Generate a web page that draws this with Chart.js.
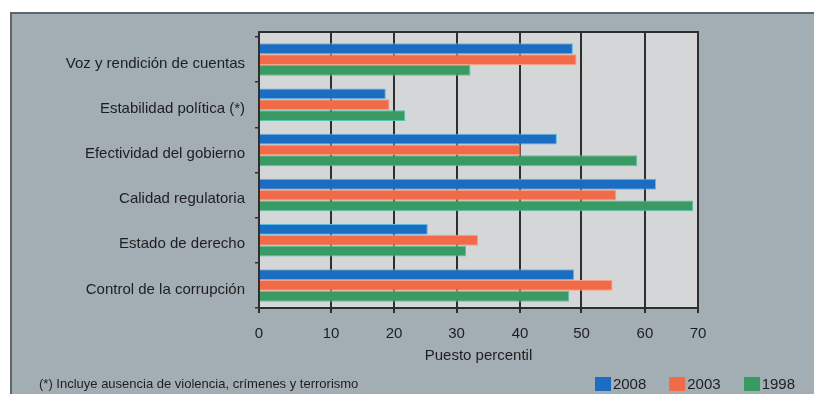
<!DOCTYPE html>
<html>
<head>
<meta charset="utf-8">
<script src="https://cdn.jsdelivr.net/npm/chart.js@4.4.1/dist/chart.umd.min.js"></script>
<style>
	body { margin: 0; background: #fff; font-family: "Liberation Sans", Arial, sans-serif; }
	#wrap { position: relative; width: 814px; height: 394px; overflow: hidden; }
	#panel {
		position: absolute; left: 10px; top: 12px; right: 0; bottom: 0;
		background: #a2adb4;
		border-top: 2px solid #5e656a; border-left: 2px solid #5e656a;
	}
	#myChart { position: absolute; left: 0; top: 0; }
	#footnote {
		position: absolute; left: 39px; top: 376px;
		font-size: 13px; line-height: 16px; color: #1e1e1e;
	}
	#legend {
		position: absolute; right: 19px; top: 376px;
		font-size: 15px; line-height: 16px; color: #1e1e1e; white-space: nowrap;
	}
	#legend span { margin-left: 23px; }
	#legend span:first-child { margin-left: 0; }
	#legend i { display: inline-block; width: 16px; height: 14px; margin-right: 2px; vertical-align: -2px; }
</style>
</head>
<body>
<div id="wrap">
	<div id="panel"></div>
	<canvas id="myChart" width="814" height="394"></canvas>
	<div id="footnote">(*) Incluye ausencia de violencia, crímenes y terrorismo</div>
	<div id="legend"></div>
</div>
<script>
const categories = [
	'Voz y rendición de cuentas',
	'Estabilidad política (*)',
	'Efectividad del gobierno',
	'Calidad regulatoria',
	'Estado de derecho',
	'Control de la corrupción'
];
const years = ['2008', '2003', '1998'];
const values2008 = [48.6, 18.7, 46.0, 62.1, 25.4, 48.8];
const values2003 = [49.2, 19.3, 40.1, 55.5, 33.4, 54.9];
const values1998 = [32.2, 21.8, 58.8, 69.1, 31.5, 48.0];
const xTicks = [0, 10, 20, 30, 40, 50, 60, 70];

const fillColors = ['#1b6dc1', '#f26b48', '#3a9a63'];
const edgeColors = ['#5cb8ea', '#f9a184', '#55c2ad'];

// printed axis steps are uneven: fraction of the plot width where each tick sits
const xStops = [0, 0.164, 0.3075, 0.45, 0.5945, 0.7346, 0.879, 1];

class StretchedScale extends Chart.LinearScale {
	static id = 'stretched';
	getPixelForValue(value) {
		if (value === null || isNaN(value)) return NaN;
		let step = xTicks[1] - xTicks[0];
		let i = Math.max(0, Math.min(Math.floor(value / step), xStops.length - 2));
		let f = (value - xTicks[i]) / step;
		return this.getPixelForDecimal(xStops[i] + f * (xStops[i + 1] - xStops[i]));
	}
	getValueForPixel(pixel) {
		let d = this.getDecimalForPixel(pixel);
		let i = 0;
		while (i < xStops.length - 2 && d > xStops[i + 1]) i++;
		let step = xTicks[1] - xTicks[0];
		return xTicks[i] + step * (d - xStops[i]) / (xStops[i + 1] - xStops[i]);
	}
}
Chart.register(StretchedScale);

// light plot background, a little empty room above the first group, and the top frame line
const headroom = 5;
const plotFrame = {
	id: 'plotFrame',
	beforeDraw(chart) {
		let a = chart.chartArea, ctx = chart.ctx;
		ctx.save();
		ctx.fillStyle = '#d5d6d7';
		ctx.fillRect(a.left, a.top - headroom, a.right - a.left, a.bottom - a.top + headroom);
		ctx.restore();
	},
	afterDraw(chart) {
		let a = chart.chartArea, ctx = chart.ctx, x = chart.scales.x;
		ctx.save();
		ctx.strokeStyle = '#2e2e2e';
		ctx.lineWidth = 2;
		ctx.beginPath();
		xTicks.forEach(v => {
			let px = Math.round(x.getPixelForValue(v));
			ctx.moveTo(px, a.top - headroom);
			ctx.lineTo(px, a.top);
		});
		ctx.moveTo(a.left - 1, a.top - headroom);
		ctx.lineTo(a.right + 1, a.top - headroom);
		ctx.stroke();
		ctx.restore();
	}
};

let seriesValues = [values2008, values2003, values1998];
let font = { family: '"Liberation Sans", Arial, sans-serif', size: 15 };

let ctx = document.getElementById('myChart').getContext('2d');
let myChart = new Chart(ctx, {
	type: 'bar',
	data: {
		labels: categories,
		datasets: years.map((y, i) => ({
			label: y,
			data: seriesValues[i],
			backgroundColor: fillColors[i],
			borderColor: edgeColors[i],
			borderWidth: { top: 1, bottom: 1, right: 1, left: 0 },
			borderSkipped: false,
			categoryPercentage: 0.72,
			barPercentage: 1.0
		}))
	},
	options: {
		indexAxis: 'y',
		responsive: false,
		animation: false,
		layout: { padding: { top: 32 + headroom, right: 116, bottom: 26, left: 0 } },
		plugins: {
			legend: { display: false },
			tooltip: { enabled: false }
		},
		scales: {
			x: {
				type: 'stretched',
				min: 0,
				max: 70,
				afterBuildTicks: (scale) => { scale.ticks = xTicks.map(v => ({ value: v })); },
				afterFit: (scale) => { scale.height = 60; },
				grid: { color: '#2e2e2e', lineWidth: 2, tickLength: 5 },
				border: { color: '#2e2e2e', width: 2 },
				ticks: { color: '#1e1e1e', font: font, padding: 12, maxRotation: 0 },
				title: {
					display: true,
					text: 'Puesto percentil',
					color: '#1e1e1e',
					font: font,
					padding: { top: 0, bottom: 3 }
				}
			},
			y: {
				afterFit: (scale) => { scale.width = 259; },
				grid: { drawOnChartArea: false, color: '#333', lineWidth: 1.5, tickLength: 4 },
				border: { color: '#2e2e2e', width: 2 },
				ticks: { color: '#1e1e1e', font: font, padding: 10, labelOffset: 4 }
			}
		}
	},
	plugins: [plotFrame]
});

// legend row under the chart
let legendBox = document.getElementById('legend');
myChart.data.datasets.forEach(ds => {
	legendBox.innerHTML += '<span><i style="background:' + ds.backgroundColor + '"></i>' + ds.label + '</span>';
});
</script>
</body>
</html>
